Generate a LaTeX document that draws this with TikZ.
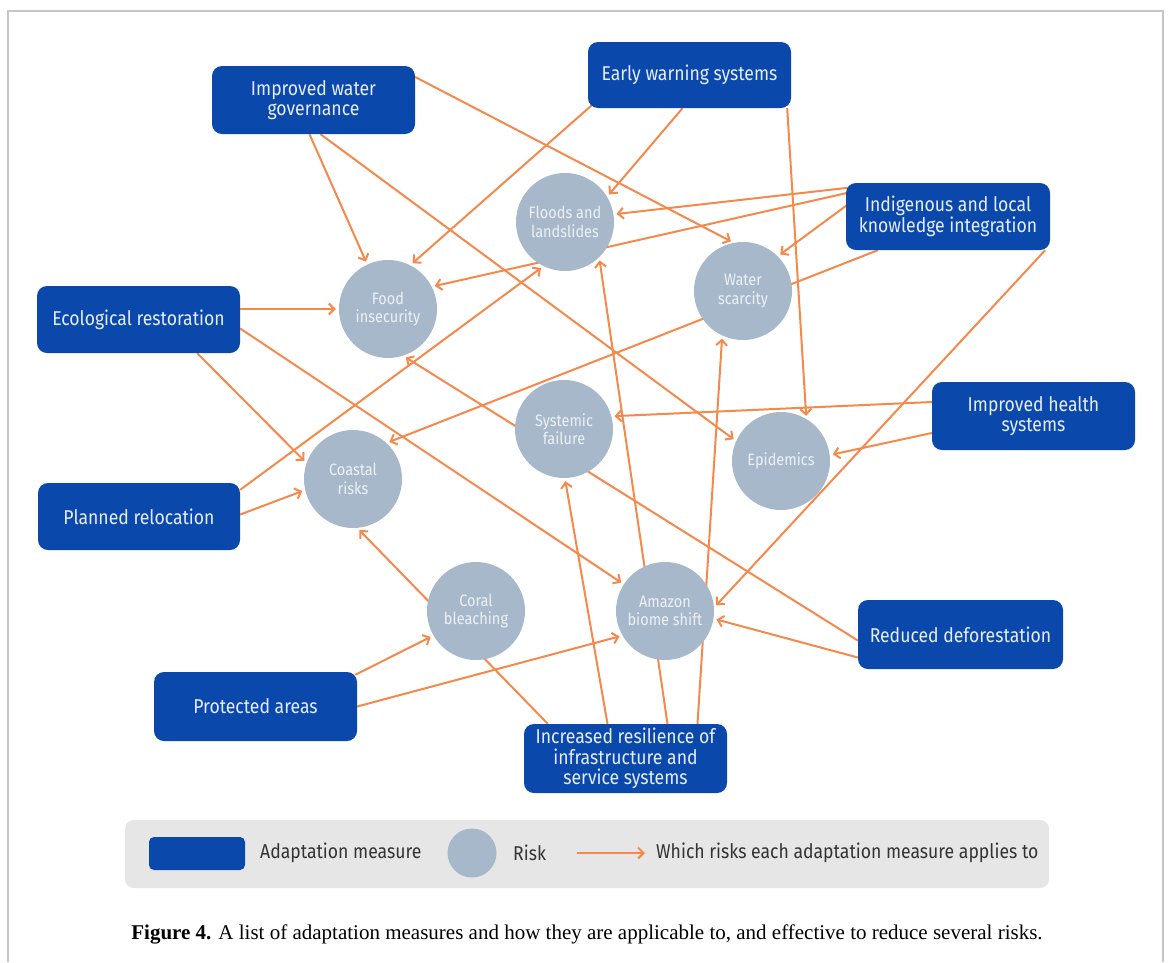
\documentclass[tikz,border=0pt]{standalone}
\usepackage{fontspec}
\setmainfont{Fira Sans}[FakeStretch=0.88]
\newfontfamily\capfont{Liberation Serif}
\usetikzlibrary{arrows.meta,calc}
\definecolor{mblue}{HTML}{0A48AC}
\definecolor{mtext}{HTML}{E6EDF8}
\definecolor{rgrey}{HTML}{A7B8CB}
\definecolor{rtext}{HTML}{EDF1F5}
\definecolor{orng}{HTML}{F4894B}
\definecolor{leggrey}{HTML}{E6E6E6}
\definecolor{framegray}{HTML}{C6C6C6}
\definecolor{legtext}{HTML}{333333}
\pgfdeclarelayer{bg}
\pgfsetlayers{bg,main}
\tikzset{
  meas/.style={fill=mblue, rounded corners=10pt, minimum width=203pt, minimum height=68pt,
    text=mtext, align=center, inner sep=0pt, font=\fontsize{20}{20.5}\selectfont},
  risk/.style={circle, fill=rgrey, minimum size=98pt, inner sep=0pt, text=rtext,
    align=center, font=\fontsize{16.5}{18.5}\selectfont},
  link/.style={draw=orng, line width=2pt, -{Straight Barb[length=5.5pt,width=11pt]}, shorten >=3pt},
  legtxt/.style={anchor=west, text=legtext, inner sep=0pt, font=\fontsize{20}{22}\selectfont},
}
\begin{document}
\begin{tikzpicture}[x=1pt,y=-1pt]
\useasboundingbox (0,0) rectangle (1170,962);

% adaptation measures
\node[meas] (IWG) at (313.5,100) {Improved water\\governance};
\node[meas, minimum height=66pt] (EWS) at (689.5,75) {Early warning systems};
\node[meas, minimum width=204pt, minimum height=67pt] (ILK) at (948,216.5) {Indigenous and local\\knowledge integration};
\node[meas, minimum height=67pt] (ER) at (138.5,319.5) {Ecological restoration};
\node[meas] (IHS) at (1033.5,416) {Improved health\\systems};
\node[meas, minimum width=202pt, minimum height=67pt] (PR) at (139,516.5) {Planned relocation};
\node[meas, minimum width=205pt, minimum height=69pt] (RD) at (960.5,634.5) {Reduced deforestation};
\node[meas, minimum height=69pt] (PA) at (255.5,706.5) {Protected areas};
\node[meas, minimum height=69pt] (IR) at (625.5,758.5) {Increased resilience of\\infrastructure and\\service systems};

% risks
\node[risk] (F) at (388,309) {Food\\insecurity};
\node[risk] (FL) at (565,222) {Floods and\\landslides};
\node[risk] (W) at (743,291) {Water\\scarcity};
\node[risk] (S) at (564,429) {Systemic\\failure};
\node[risk] (E) at (781,461) {Epidemics};
\node[risk] (C) at (353,479) {Coastal\\risks};
\node[risk] (CB) at (476,611) {Coral\\bleaching};
\node[risk] (A) at (665,611) {Amazon\\biome shift};

\begin{pgfonlayer}{bg}
\fill[white] (0,0) rectangle (1170,962);
\draw[framegray, line width=2pt] (8,962) -- (8,11) -- (1163,11) -- (1163,962);
\draw[link] ($(IWG.south)+(-4,0)$) -- (F.115);
\draw[link] ($(IWG.south)+(7,0)$) -- (E.156);
\draw[link] ($(IWG.east)+(0,-23)$) -- (W.101);
\draw[link] ($(EWS.south west)+(4,-3)$) -- (F.63);
\draw[link] ($(EWS.south)+(-7,0)$) -- (FL.31);
\draw[link] ($(EWS.south east)+(-4,0)$) -- (E.59);
\draw[link] ($(ILK.north west)+(2,5)$) -- (FL.9);
\draw[link] ($(ILK.north west)+(2,10)$) -- (F.27);
\draw[link] ($(ILK.west)+(2,-12)$) -- (W.45);
\draw[link] ($(ILK.south west)+(32,0)$) -- (C.47);
\draw[link] ($(ILK.south east)+(-5,0)$) -- (A.4);
\draw[link] (ER.east |- F.west) -- (F.west);
\draw[link] ($(ER.south east)+(-43,0)$) -- (C.161);
\draw[link] ($(ER.east)+(0,9)$) -- (A.147);
\draw[link] ($(PR.north east)+(0,7)$) -- (FL.244);
\draw[link] ($(PR.east)+(0,-2)$) -- (C.193);
\draw[link] ($(IHS.west)+(0,-14)$) -- (S.15);
\draw[link] ($(IHS.west)+(0,17)$) -- (E.7);
\draw[link] ($(RD.west)+(0,6)$) -- (F.288);
\draw[link] ($(RD.west)+(0,23)$) -- (A.351);
\draw[link] ($(PA.north east)+(-2,3)$) -- (CB.210);
\draw[link] (PA.east) -- (A.210);
\draw[link] ($(IR.north west)+(24,0)$) -- (C.275);
\draw[link] ($(IR.north)+(-18,0)$) -- (S.271);
\draw[link] ($(IR.north)+(42,0)$) -- (FL.314);
\draw[link] ($(IR.north)+(72,0)$) -- (W.245);
\end{pgfonlayer}

% legend
\node[fill=leggrey, rounded corners=9pt, minimum width=924pt, minimum height=68pt, inner sep=0pt] (legend) at (587,854) {};
\node[fill=mblue, rounded corners=5pt, minimum width=96pt, minimum height=33pt, inner sep=0pt] (legbox) at (197,853.5) {};
\node[legtxt] (legmeas) at (260,853) {Adaptation measure};
\node[circle, fill=rgrey, minimum size=49pt, inner sep=0pt] (legcirc) at (472,853) {};
\node[legtxt] (legrisk) at (513,853) {Risk};
\coordinate (legA) at (577,853);
\coordinate (legB) at (645,853);
\draw[link, shorten >=0pt] (legA) -- (legB);
\node[legtxt] (legarrow) at (656,853) {Which risks each adaptation measure applies to};

% caption
\node[anchor=base, inner sep=0pt, font=\capfont\fontsize{21}{24}\selectfont] (cap) at (587,939)
  {\textbf{Figure 4.} A list of adaptation measures and how they are applicable to, and effective to reduce several risks.};
\end{tikzpicture}
\end{document}
